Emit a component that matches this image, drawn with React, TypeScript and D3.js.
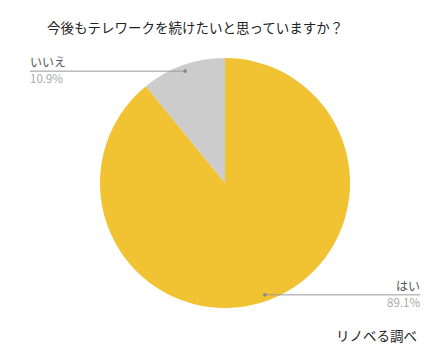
import React, { useRef, useEffect } from 'react';
import * as d3 from 'd3';

const categories = ['はい', 'いいえ'];
const values = [89.1, 10.9];
const valueLabels = ['89.1%', '10.9%'];
const colors = ['#F1C232', '#CCCCCC'];
const title = '今後もテレワークを続けたいと思っていますか？';
const source = 'リノベる調べ';

const W = 441;
const H = 362;
const FONT = '"Noto Sans CJK JP", "Noto Sans", sans-serif';

const App: React.FC = () => {
    const svgRef = useRef<SVGSVGElement | null>(null);

    useEffect(() => {
        if (!svgRef.current) return;
        const svg = d3.select(svgRef.current);
        svg.selectAll('*').remove();

        svg.append('rect').attr('width', W).attr('height', H).attr('fill', '#fff');

        const cx = 225;
        const cy = 183;
        const r = 125;

        const pie = d3.pie<number>().sort(null).value(d => d);
        const arcs = pie(values);
        const arc = d3.arc<d3.PieArcDatum<number>>().innerRadius(0).outerRadius(r);

        const g = svg.append('g').attr('transform', `translate(${cx},${cy})`);
        g.selectAll('path')
            .data(arcs)
            .enter().append('path')
            .attr('d', arc)
            .attr('fill', (_, i) => colors[i]);

        // title
        svg.append('text')
            .attr('x', 47)
            .attr('y', 33)
            .attr('font-family', FONT)
            .attr('font-size', 13.5)
            .attr('fill', '#222')
            .text(title);

        // leader lines + labels
        const inner = d3.arc<d3.PieArcDatum<number>>().innerRadius(r * 0.95).outerRadius(r * 0.95);
        arcs.forEach((a, i) => {
            const [px, py] = inner.centroid(a);
            const dx = cx + px;
            const dy = cy + py;
            const left = dx < cx;
            const lineEnd = left ? 30 : 420;
            const anchor = left ? 'start' : 'end';

            svg.append('line')
                .attr('x1', dx).attr('y1', dy)
                .attr('x2', lineEnd).attr('y2', dy)
                .attr('stroke', '#999')
                .attr('stroke-width', 1);
            svg.append('circle')
                .attr('cx', dx).attr('cy', dy).attr('r', 1.8)
                .attr('fill', '#888');
            svg.append('text')
                .attr('x', lineEnd).attr('y', dy - 4)
                .attr('text-anchor', anchor)
                .attr('font-family', FONT)
                .attr('font-size', 12)
                .attr('fill', '#555')
                .text(categories[i]);
            svg.append('text')
                .attr('x', lineEnd).attr('y', dy + 12)
                .attr('text-anchor', anchor)
                .attr('font-family', FONT)
                .attr('font-size', 11.5)
                .attr('fill', '#aaa')
                .text(valueLabels[i]);
        });

        // source
        svg.append('text')
            .attr('x', 417)
            .attr('y', 341)
            .attr('text-anchor', 'end')
            .attr('font-family', FONT)
            .attr('font-size', 13.5)
            .attr('fill', '#222')
            .text(source);
    }, []);

    return <svg ref={svgRef} width={W} height={H} style={{ position: 'absolute', left: 0, top: 0 }}></svg>;
};

export default App;
